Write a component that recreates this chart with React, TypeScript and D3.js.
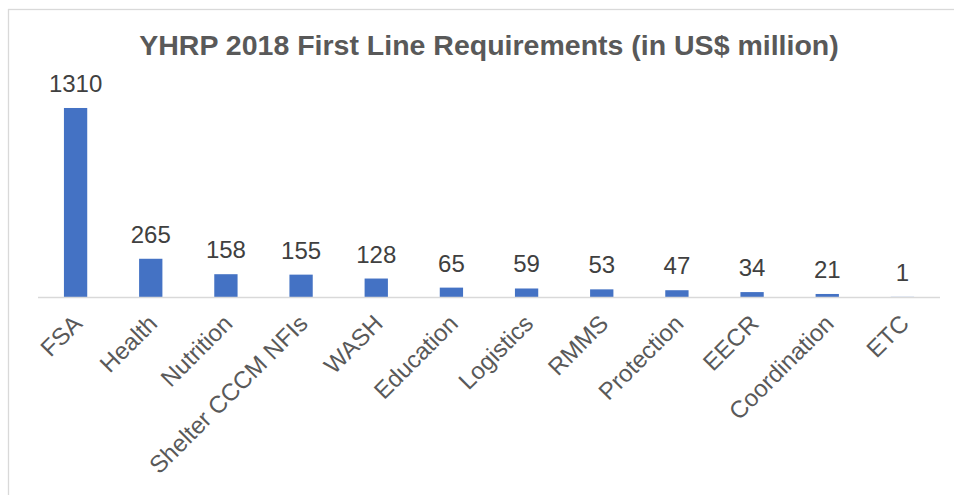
import React from 'react';
import * as d3 from 'd3';

// YHRP 2018 first line requirements, US$ million
const CATEGORIES = ['FSA', 'Health', 'Nutrition', 'Shelter CCCM NFIs', 'WASH', 'Education',
  'Logistics', 'RMMS', 'Protection', 'EECR', 'Coordination', 'ETC'];
const VALUES = [1310, 265, 158, 155, 128, 65, 59, 53, 47, 34, 21, 1];
const Y_DOMAIN = [0, 1400];

const TITLE = 'YHRP 2018 First Line Requirements (in US$ million)';
const FONT = '"Liberation Sans", Arial, sans-serif';

const W = 954, H = 495;
const plot = {left: 38, right: 940, top: 95, bottom: 297};

export default function App () {
  const x = d3.scaleBand()
    .domain(CATEGORIES)
    .range([plot.left, plot.right])
    .paddingInner(0.69)
    .paddingOuter(0.345);
  const y = d3.scaleLinear()
    .domain(Y_DOMAIN)
    .range([plot.bottom, plot.top]);

  return (
    <svg width={W} height={H} style={{position: 'absolute', left: 0, top: 0}} fontFamily={FONT}>
      <rect x={0} y={0} width={W} height={H} fill='#fff' />
      {/* chart border, cut by the window on right and bottom */}
      <rect x={8.5} y={9.5} width={W + 20} height={H + 20} fill='none' stroke='#d9d9d9' strokeWidth={1.3} />

      <text x={489} y={55} textAnchor='middle' fontSize={28.5} fontWeight='bold' fill='#595959'>
        {TITLE}
      </text>

      {CATEGORIES.map((c, i) => (
        <rect key={c} x={x(c)} y={y(VALUES[i])} width={x.bandwidth()}
          height={plot.bottom - y(VALUES[i])} fill='#4472c4' />
      ))}

      <line x1={plot.left} x2={plot.right} y1={plot.bottom + 0.5} y2={plot.bottom + 0.5}
        stroke='#d9d9d9' strokeWidth={1.5} />

      {CATEGORIES.map((c, i) => (
        <text key={c} x={x(c) + x.bandwidth() / 2} y={y(VALUES[i]) - 16}
          textAnchor='middle' fontSize={24} fill='#404040'>
          {VALUES[i]}
        </text>
      ))}

      {CATEGORIES.map(c => {
        const cx = x(c) + x.bandwidth() / 2 - 4;
        return (
          <text key={c} transform={`translate(${cx},${313}) rotate(-45)`}
            textAnchor='end' dy='0.71em' fontSize={24} fill='#595959'>
            {c}
          </text>
        );
      })}
    </svg>
  );
}
